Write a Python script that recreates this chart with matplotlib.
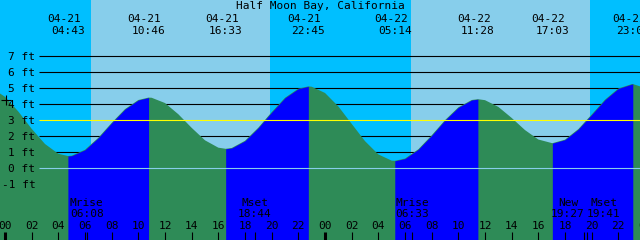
import matplotlib
matplotlib.use('Agg')
import matplotlib.pyplot as plt
import numpy as np

# tide height (ft) every hour, hour 0 = 04-21 00:00
hours = list(range(-1, 49))
feet = [5.00, 4.45, 3.53, 2.45, 1.50, 0.89, 0.77, 1.14, 1.89, 2.82,
        3.68, 4.25, 4.39, 4.06, 3.36, 2.51, 1.73, 1.27, 1.25, 1.70,
        2.52, 3.49, 4.39, 4.96, 5.08, 4.69, 3.85, 2.76, 1.68, 0.85,
        0.46, 0.59, 1.17, 2.04, 2.99, 3.79, 4.25, 4.24, 3.82, 3.13,
        2.37, 1.78, 1.56, 1.77, 2.43, 3.34, 4.27, 4.97, 5.24, 5.00]

# highs and lows listed along the top
tide_dates = ['04-21', '04-21', '04-21', '04-21', '04-22', '04-22', '04-22', '04-22']
tide_times = ['04:43', '10:46', '16:33', '22:45', '05:14', '11:28', '17:03', '23:05']
tide_feet = [0.75, 4.40, 1.20, 5.10, 0.45, 4.30, 1.55, 5.25]

# sun
sun_dates = ['04-21', '04-22']
sunrise = ['06:27', '06:27']
sunset = ['19:53', '19:53']

# moon events along the bottom
moon_labels = ['Mrise', 'Mset', 'Mrise', 'New', 'Mset']
moon_dates = ['04-21', '04-21', '04-22', '04-22', '04-22']
moon_times = ['06:08', '18:44', '06:33', '19:27', '19:41']

y_levels = [7, 6, 5, 4, 3, 2, 1, 0, -1]

NIGHT = '#00BFFF'
DAY = '#87CEEB'
EBB = '#2E8B57'
FLOOD = '#0000FF'
FONT = 'DejaVu Sans Mono'

PXH = 40 / 3.0  # pixels per hour


def to_h(date, hm):
    d = 0 if date == '04-21' else 24
    hh, mm = hm.split(':')
    return d + int(hh) + int(mm) / 60.0


def hx(px):
    return (px - 5) / PXH


def fy(py):
    return (168 - py) / 16.0


fig = plt.figure(figsize=(6.4, 2.4), dpi=100)
ax = fig.add_axes([0, 0, 1, 1])
ax.set_xlim(hx(0), hx(640))
ax.set_ylim(fy(240), fy(0))
ax.axis('off')

# night / day background
ax.axvspan(hx(0), hx(640), color=NIGHT, lw=0, zorder=0)
for d, r, s in zip(sun_dates, sunrise, sunset):
    ax.axvspan(to_h(d, r), to_h(d, s), color=DAY, lw=0, zorder=0.5)

# grid lines behind the water
for lv in y_levels:
    if lv in (3, 0):
        continue
    ax.hlines(lv, hx(39), hx(640), color='black', lw=0.8, zorder=1)

# curve = hourly readings + the listed extremes
ext_h = [to_h(d, t) for d, t in zip(tide_dates, tide_times)]
t = np.array(hours + ext_h, dtype=float)
f = np.array(feet + tide_feet, dtype=float)
order = np.argsort(t)
t, f = t[order], f[order]

ax.fill_between(t, f, fy(240), color=EBB, lw=0, zorder=2)
for i in range(len(ext_h) - 1):
    if tide_feet[i] < tide_feet[i + 1]:
        m = (t >= ext_h[i]) & (t <= ext_h[i + 1])
        ax.fill_between(t[m], f[m], fy(240), color=FLOOD, lw=0, zorder=2)

ax.hlines(3, hx(39), hx(640), color='#FFFF00', lw=0.8, zorder=3)
ax.hlines(0, hx(39), hx(640), color='#87CEEB', lw=0.8, zorder=3)

# left labels
for lv in y_levels:
    ax.text(hx(35.5), lv - 0.25, f'{lv} ft', ha='right', va='baseline',
            family=FONT, fontsize=8, zorder=4)

ax.plot([hx(6)], [fy(100)], marker='+', color='black', ms=7, mew=0.8, zorder=4)

# title and header
ax.text(hx(320), fy(9), 'Half Moon Bay, California', ha='center', va='baseline',
        family=FONT, fontsize=8, zorder=4)
for d, tm, h in zip(tide_dates, tide_times, ext_h):
    ax.text(h - 4 / PXH, fy(22), d, ha='center', va='baseline',
            family=FONT, fontsize=8, zorder=4, clip_on=True)
    ax.text(h, fy(34), tm, ha='center', va='baseline',
            family=FONT, fontsize=8, zorder=4, clip_on=True)

# hour ticks along the bottom
for h in range(0, 49, 2):
    lw = 2.2 if h % 24 == 0 else 0.8
    ax.vlines(h, fy(240), fy(232), color='black', lw=lw, zorder=4)
    ax.text(h, fy(229), f'{h % 24:02d}', ha='center', va='baseline',
            family=FONT, fontsize=8, zorder=4, clip_on=True)

# moon events, labels pushed apart when they would overlap
moon_h = [to_h(d, tm) for d, tm in zip(moon_dates, moon_times)]
pos = [5 + h * PXH for h in moon_h]
for i in range(len(pos) - 1):
    if pos[i + 1] - pos[i] < 36:
        mid = (pos[i] + pos[i + 1]) / 2
        pos[i], pos[i + 1] = mid - 18, mid + 18
for lab, tm, h, p in zip(moon_labels, moon_times, moon_h, pos):
    ax.vlines(h, fy(240), fy(232), color='black', lw=0.8, zorder=4)
    ax.text(hx(p), fy(206), lab, ha='center', va='baseline',
            family=FONT, fontsize=8, zorder=4)
    ax.text(hx(p), fy(217), tm, ha='center', va='baseline',
            family=FONT, fontsize=8, zorder=4)

fig.savefig('out.png', dpi=100)
